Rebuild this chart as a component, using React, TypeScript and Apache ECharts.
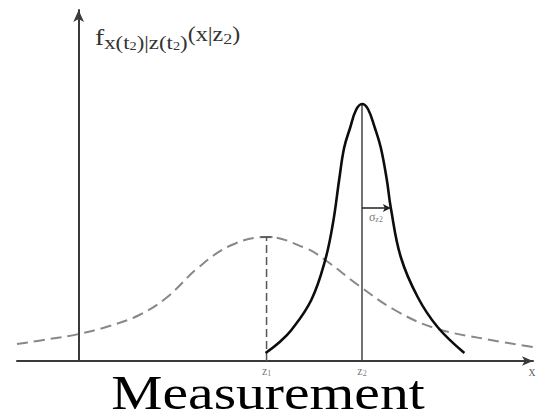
import React, { useEffect, useRef } from "react";
import * as echarts from "echarts";

// prior (dashed) density f_x(t2)|z(t1)
const priorX = [-1.24, -0.58, 0, 0.62, 1.22, 1.76, 2.42, 3.08, 3.78, 4.56, 4.96, 5.62, 6.36, 7.16, 8.18, 9.14];
const priorY = [0.17, 0.22, 0.27, 0.35, 0.46, 0.63, 0.94, 1.16, 1.24, 1.13, 1.01, 0.76, 0.51, 0.33, 0.22, 0.14];

// posterior (solid) density after measurement z2
const postX = [3.76, 4.02, 4.28, 4.68, 4.96, 5.12, 5.24, 5.34, 5.46, 5.58, 5.7, 5.82, 5.96, 6.08, 6.2, 6.28, 6.48, 6.82, 7.22, 7.76];
const postY = [0.08, 0.18, 0.31, 0.61, 1.01, 1.39, 1.81, 2.13, 2.33, 2.51, 2.57, 2.52, 2.33, 2.13, 1.81, 1.53, 1.04, 0.64, 0.34, 0.08];

const z1 = 3.78;
const z2 = 5.7;
const priorPeak = 1.24;
const postPeak = 2.57;
const sigma = 0.58;
const sigmaLevel = 1.53;

const xRange = [-1.24, 9.14];
const yRange = [0, 3.51];

const serif = "Liberation Serif";

export default function App() {
  const ref = useRef<HTMLDivElement>(null);
  useEffect(() => {
    if (!ref.current) return;
    const chart = echarts.init(ref.current, undefined, { renderer: "svg" });
    const prior = priorX.map((x, i) => [x, priorY[i]]);
    const post = postX.map((x, i) => [x, postY[i]]);
    chart.setOption({
      animation: false,
      backgroundColor: "#ffffff",
      grid: { left: 17, right: 3, top: 10, bottom: 59, containLabel: false },
      xAxis: {
        type: "value",
        min: xRange[0],
        max: xRange[1],
        axisLine: {
          show: true,
          onZero: true,
          symbol: ["none", "arrow"],
          symbolSize: [7, 11],
          lineStyle: { color: "#3a3a3a", width: 2 },
        },
        axisTick: { show: false },
        axisLabel: { show: false },
        splitLine: { show: false },
      },
      yAxis: {
        type: "value",
        min: yRange[0],
        max: yRange[1],
        axisLine: {
          show: true,
          onZero: true,
          symbol: ["none", "arrow"],
          symbolSize: [8, 12],
          lineStyle: { color: "#3a3a3a", width: 2 },
        },
        axisTick: { show: false },
        axisLabel: { show: false },
        splitLine: { show: false },
      },
      series: [
        {
          type: "line",
          name: "prior",
          data: prior,
          smooth: 0.4,
          showSymbol: false,
          lineStyle: { color: "#888", width: 2, type: [11, 6] },
          z: 2,
        },
        {
          type: "line",
          name: "priorMean",
          data: [[z1, 0], [z1, priorPeak]],
          showSymbol: false,
          lineStyle: { color: "#555", width: 1.5, type: [8, 4] },
        },
        {
          type: "line",
          name: "priorCap",
          data: [[z1 - 0.12, priorPeak], [z1 + 0.12, priorPeak]],
          showSymbol: false,
          lineStyle: { color: "#555", width: 1.5 },
        },
        {
          type: "line",
          name: "postMean",
          data: [[z2, 0], [z2, postPeak]],
          showSymbol: false,
          lineStyle: { color: "#444", width: 1.5 },
        },
        {
          type: "line",
          name: "posterior",
          data: post,
          smooth: 0.4,
          showSymbol: false,
          lineStyle: { color: "#0d0d0d", width: 2.6 },
          z: 3,
          markLine: {
            silent: true,
            symbol: ["none", "arrow"],
            symbolSize: [6, 8],
            label: { show: false },
            lineStyle: { color: "#222", width: 1.5, type: "solid" },
            data: [[{ coord: [z2, sigmaLevel] }, { coord: [z2 + sigma, sigmaLevel] }]],
          },
        },
        {
          type: "scatter",
          name: "labels",
          symbolSize: 0,
          silent: true,
          data: [
            { value: [z1, 0], label: { formatter: "{v|z}{s|1}" } },
            { value: [z2, 0], label: { formatter: "{v|z}{s|2}" } },
            { value: [9.12, 0], label: { formatter: "{x|x}" } },
            { value: [z2 + 0.28, sigmaLevel], label: { formatter: "{v|σ}{s|z2}", distance: 2 } },
          ],
          label: {
            show: true,
            position: "bottom",
            distance: 3,
            color: "#555",
            fontFamily: serif,
            rich: {
              v: { fontFamily: serif, fontSize: 12, color: "#555" },
              x: { fontFamily: serif, fontSize: 14, color: "#444" },
              s: { fontFamily: serif, fontSize: 8, color: "#555", padding: [5, 0, 0, 0] },
            },
          },
        },
      ],
      graphic: [
        {
          type: "text",
          x: 95,
          y: 25,
          scaleX: 1.2,
          silent: true,
          style: {
            text: "{f|f}{sub|x(t}{s2|2}{sub|)|z(t}{s2|2}{sub|)}{arg|(x|z}{a2|2}{arg|)}",
            fontFamily: serif,
            fill: "#333",
            rich: {
              f: { fontFamily: serif, fontSize: 23, fill: "#333", lineHeight: 24 },
              sub: { fontFamily: serif, fontSize: 19, fill: "#333", padding: [11, 0, 0, 0], lineHeight: 20 },
              s2: { fontFamily: serif, fontSize: 12, fill: "#333", padding: [18, 0, 0, 0], lineHeight: 13 },
              arg: { fontFamily: serif, fontSize: 20, fill: "#333", padding: [0, 0, 6, 0], lineHeight: 22 },
              a2: { fontFamily: serif, fontSize: 15, fill: "#333", padding: [5, 0, 0, 0], lineHeight: 16 },
            },
          },
        },
        {
          type: "text",
          x: 268,
          y: 393,
          scaleX: 1.2,
          silent: true,
          style: {
            text: "Measurement",
            fontFamily: serif,
            fontSize: 48,
            lineHeight: 46,
            fill: "#000",
            align: "center",
            verticalAlign: "middle",
          },
        },
      ],
    });
    return () => chart.dispose();
  }, []);
  return (
    <div
      ref={ref}
      style={{ position: "fixed", left: 0, top: 0, width: 536, height: 420, background: "#fff" }}
    />
  );
}
